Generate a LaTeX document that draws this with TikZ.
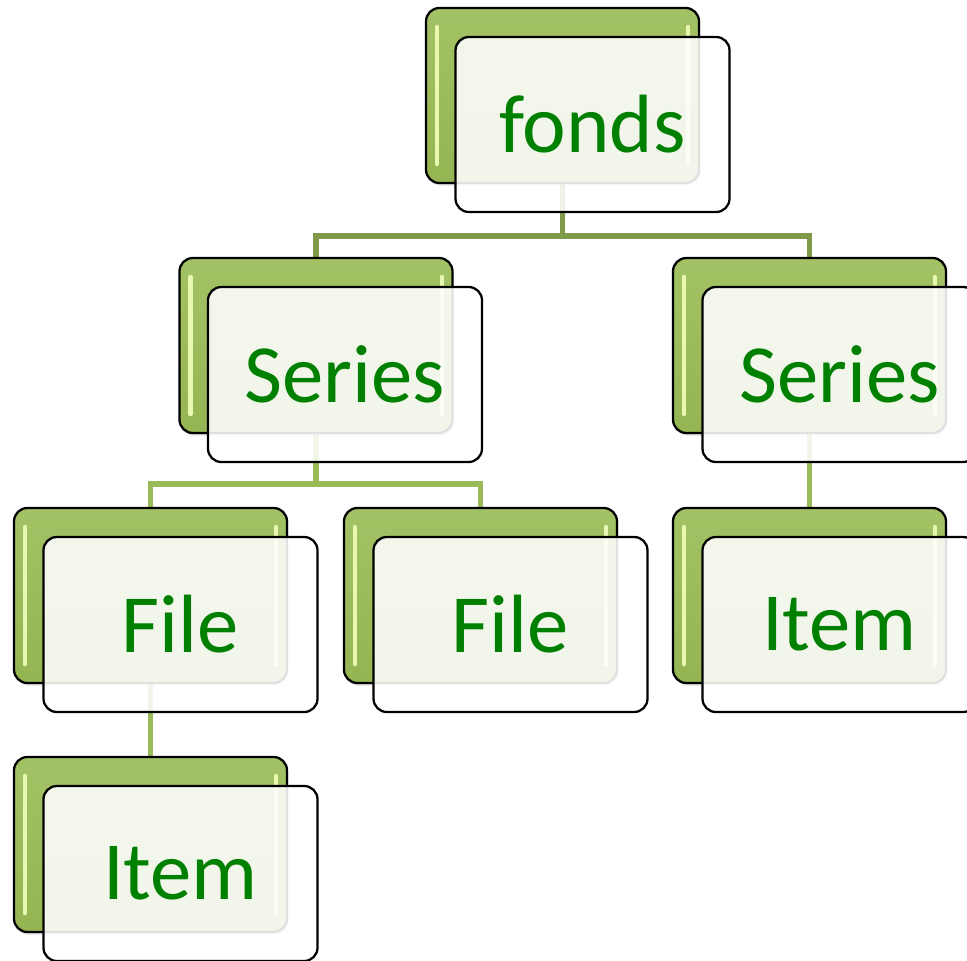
\documentclass[tikz,border=0pt]{standalone}
\usepackage{fontspec}
\setmainfont{Carlito}
\usetikzlibrary{calc,shadows}
\definecolor{bgtop}{HTML}{A3C265}
\definecolor{bgbot}{HTML}{95B553}
\definecolor{conndark}{HTML}{7F9A48}
\definecolor{connlight}{HTML}{9BBB59}
\definecolor{txtgreen}{HTML}{008000}
\definecolor{hlcol}{HTML}{E8F8B0}
\begin{document}
\begin{tikzpicture}[x=0.75pt,y=0.75pt,
  backbox/.style={draw=black, line width=1.7pt, rounded corners=10pt,
    minimum width=204.75pt, minimum height=131.25pt, inner sep=0pt,
    top color=bgtop, bottom color=bgbot,
    drop shadow={opacity=0.25, shadow xshift=1pt, shadow yshift=-2pt}},
  frontbox/.style={draw=black, line width=1.7pt, rounded corners=10pt,
    minimum width=205.5pt, minimum height=131.25pt, inner sep=0pt,
    fill=white, fill opacity=0.88, text opacity=1, text=txtgreen,
    font=\fontsize{62}{70}\selectfont},
  connA/.style={draw=conndark, line width=3.8pt},
  connB/.style={draw=connlight, line width=3.8pt},
  hl/.style={draw=hlcol, line width=3.2pt, line cap=round}
]
\useasboundingbox (0,0) rectangle (967,-960);
\clip (0,0) rectangle (967,-960);

% junction coordinates
\coordinate (jA) at (562.5,-236);
\coordinate (jB) at (316,-484);

\path (562.5,-95.5) coordinate (cfonds)
      (316,-345.5) coordinate (cserL)
      (809.5,-345.5) coordinate (cserR)
      (150.5,-595.5) coordinate (cfile1)
      (480.5,-595.5) coordinate (cfile2)
      (809.5,-595.5) coordinate (citemR)
      (150.5,-844.5) coordinate (citemB);

% connectors
\draw[connA] (cfonds) -- (jA) -| (cserL);
\draw[connA] (jA) -| (cserR);
\draw[connB] (cserL) -- (jB) -| (cfile1);
\draw[connB] (jB) -| (cfile2);
\draw[connB] (cserR) -- (citemR);
\draw[connB] (cfile1) -- (citemB);

% back boxes
\node[backbox] (fondsB) at (cfonds) {};
\node[backbox] (serLB) at (cserL) {};
\node[backbox] (serRB) at (cserR) {};
\node[backbox] (file1B) at (cfile1) {};
\node[backbox] (file2B) at (cfile2) {};
\node[backbox] (itemRB) at (citemR) {};
\node[backbox] (itemBB) at (citemB) {};

\foreach \n in {fondsB,serLB,serRB,file1B,file2B,itemRB,itemBB}{
  \draw[hl] ($(\n.north west)+(12,-20)$) -- ($(\n.south west)+(12,20)$);
  \draw[hl] ($(\n.north east)+(-12,-20)$) -- ($(\n.south east)+(-12,20)$);
}

% front boxes
\node[frontbox] (fonds) at ($(cfonds)+(30,-29)$) {fonds};
\node[frontbox] (serL) at ($(cserL)+(29,-29)$) {Series};
\node[frontbox] (serR) at ($(cserR)+(30,-29)$) {Series};
\node[frontbox] (file1) at ($(cfile1)+(30,-29)$) {File};
\node[frontbox] (file2) at ($(cfile2)+(30,-29)$) {File};
\node[frontbox] (itemR) at ($(citemR)+(30,-29)$) {Item};
\node[frontbox] (itemB) at ($(citemB)+(30,-29)$) {Item};
\end{tikzpicture}
\end{document}
